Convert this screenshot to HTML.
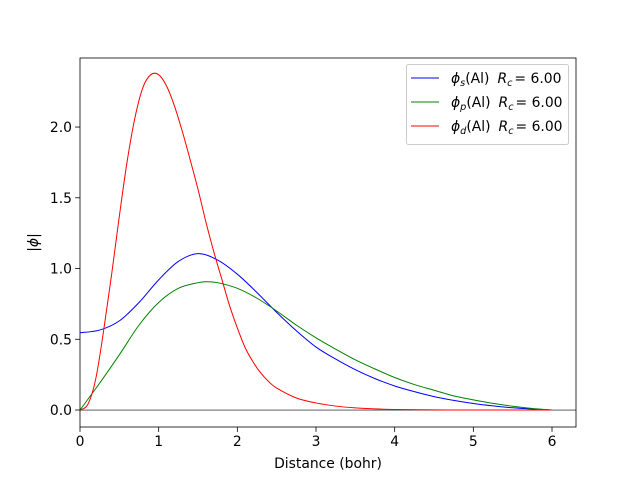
<!DOCTYPE html>
<html><head><meta charset="utf-8"><style>
body{margin:0;background:#fff;}
svg text{font-family:"DejaVu Sans","Liberation Sans",sans-serif;}
</style></head><body>
<svg id="chart" width="640" height="480" xmlns="http://www.w3.org/2000/svg">
<rect width="640" height="480" fill="#fff"/>
<g id="plot"></g>
</svg>
<script>
const xTicks=[0,1,2,3,4,5,6];
const yTicks=[0.0,0.5,1.0,1.5,2.0];
const sX=[0,0.25,0.5,0.75,1.0,1.25,1.5,1.75,2.0,2.25,2.5,2.75,3.0,3.25,3.5,3.75,4.0,4.25,4.5,4.75,5.0,5.25,5.5,5.75,6.0];
const sY=[0.546,0.565,0.63,0.76,0.92,1.05,1.105,1.06,0.96,0.83,0.69,0.56,0.445,0.36,0.285,0.222,0.17,0.13,0.095,0.068,0.046,0.029,0.016,0.007,0];
const pX=[0,0.25,0.5,0.75,1.0,1.25,1.5,1.61,1.75,2.0,2.25,2.5,2.75,3.0,3.25,3.5,3.75,4.0,4.25,4.5,4.75,5.0,5.25,5.5,5.75,6.0];
const pY=[0,0.19,0.39,0.6,0.76,0.86,0.9,0.907,0.9,0.86,0.79,0.70,0.60,0.51,0.43,0.355,0.29,0.23,0.18,0.14,0.10,0.072,0.047,0.027,0.011,0];
const dX=[0,0.1,0.2,0.3,0.4,0.5,0.6,0.7,0.8,0.9,1.0,1.1,1.2,1.3,1.4,1.5,1.6,1.7,1.8,1.9,2.0,2.1,2.2,2.3,2.4,2.5,2.75,3.0,3.25,3.5,3.75,4.0,4.5,5.0,6.0];
const dY=[0,0.04,0.22,0.56,0.95,1.37,1.76,2.07,2.28,2.37,2.37,2.29,2.15,1.97,1.77,1.56,1.33,1.12,0.93,0.74,0.58,0.44,0.34,0.26,0.2,0.155,0.085,0.05,0.028,0.015,0.008,0.004,0.001,0,0];
const L=80,R=576,T=58,B=427;
const xmin=0,xmax=6.305,ymin=-0.12,ymax=2.488;
const X=v=>L+(v-xmin)/(xmax-xmin)*(R-L);
const Y=v=>B-(v-ymin)/(ymax-ymin)*(B-T);
const NS="http://www.w3.org/2000/svg";
const g=document.getElementById('plot');
function mk(t,a,p){const e=document.createElementNS(NS,t);for(const k in a)e.setAttribute(k,a[k]);(p||g).appendChild(e);return e;}
function path(xs,ys){let pts=xs.map((x,i)=>[X(x),Y(ys[i])]);let d="M"+pts[0][0]+","+pts[0][1];
for(let i=0;i<pts.length-1;i++){const p0=pts[Math.max(0,i-1)],p1=pts[i],p2=pts[i+1],p3=pts[Math.min(pts.length-1,i+2)];
const c1=[p1[0]+(p2[0]-p0[0])/6,p1[1]+(p2[1]-p0[1])/6],c2=[p2[0]-(p3[0]-p1[0])/6,p2[1]-(p3[1]-p1[1])/6];
d+=`C${c1[0]},${c1[1]} ${c2[0]},${c2[1]} ${p2[0]},${p2[1]}`;}return d;}
let z=mk('line',{x1:L,x2:R,y1:Y(0),y2:Y(0),stroke:'#000','stroke-width':0.6});


const series=[[sX,sY,'#0000ff','curve-phi-s'],[pX,pY,'#008000','curve-phi-p'],[dX,dY,'#ff0000','curve-phi-d']];
series.forEach(s=>{const e=mk('path',{d:path(s[0],s[1]),fill:'none',stroke:s[2],'stroke-width':1});

});
let fr=mk('rect',{x:L,y:T,width:R-L,height:B-T,fill:'none',stroke:'#000','stroke-width':0.8});


xTicks.forEach(t=>{mk('line',{x1:X(t),x2:X(t),y1:B,y2:B+4.9,stroke:'#000','stroke-width':0.8});
const e=mk('text',{x:X(t),y:B+19,'text-anchor':'middle','font-size':13.9});e.textContent=t;

});
yTicks.forEach(t=>{mk('line',{x1:L-4.9,x2:L,y1:Y(t),y2:Y(t),stroke:'#000','stroke-width':0.8});
const e=mk('text',{x:L-8,y:Y(t)+5,'text-anchor':'end','font-size':13.9});e.textContent=t.toFixed(1);

});
let xt=mk('text',{x:(L+R)/2,y:468,'text-anchor':'middle','font-size':13.9});xt.textContent='Distance (bohr)';


let yt=mk('text',{x:38,y:(T+B)/2,'text-anchor':'middle','font-size':13.9,transform:`rotate(-90 38 ${(T+B)/2})`});yt.innerHTML='|<tspan font-style="italic">ϕ</tspan>|';


let lg=mk('rect',{x:406.5,y:64.5,width:162,height:80,rx:2,fill:'#fff','fill-opacity':0.8,stroke:'#ccc'});


const subs=['s','p','d'];
series.forEach((s,i)=>{const y=78+i*24;
mk('line',{x1:411,x2:439,y1:y,y2:y,stroke:s[2],'stroke-width':1});
const e=mk('text',{x:451,y:y+5,'font-size':13.9});
e.innerHTML=`<tspan font-style="italic">ϕ</tspan><tspan font-size="9.7" font-style="italic" dy="3">${subs[i]}</tspan><tspan dy="-3">(Al)</tspan><tspan font-style="italic" dx="8">R</tspan><tspan font-size="9.7" font-style="italic" dy="3">c</tspan><tspan dy="-3" dx="2">= 6.00</tspan>`;

});
</script>
</body></html>
